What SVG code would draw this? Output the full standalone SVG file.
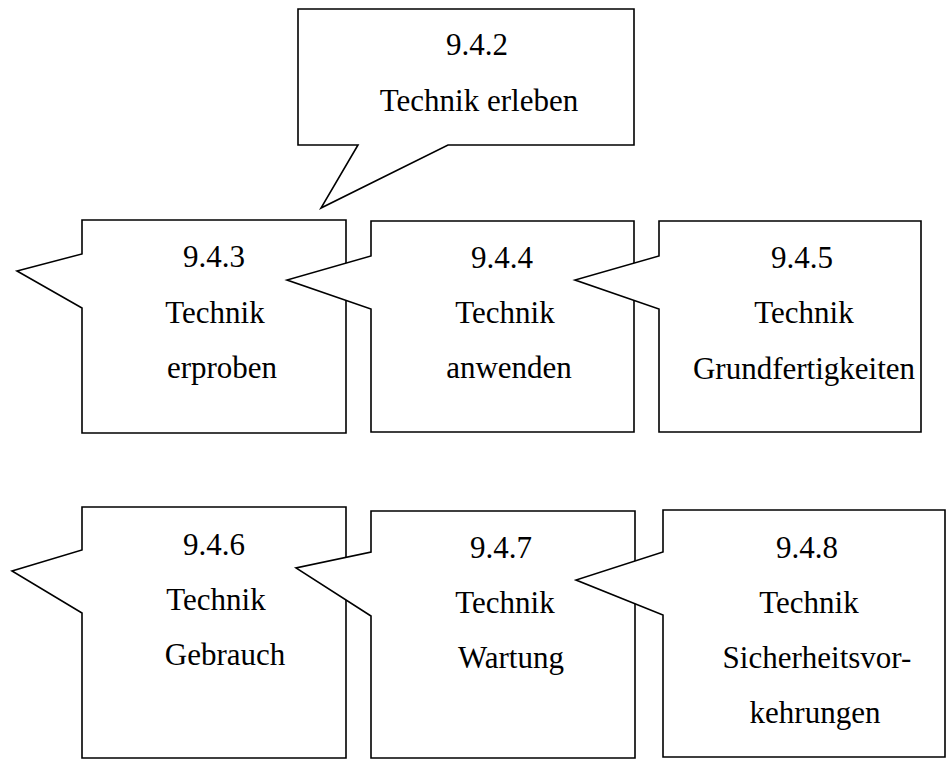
<svg xmlns="http://www.w3.org/2000/svg" width="947" height="761" viewBox="0 0 947 761">
<style>
.c{fill:#fff;stroke:#000;stroke-width:1.6;stroke-linejoin:miter}
.t{font-family:'Liberation Serif','DejaVu Serif',serif;font-size:31px;fill:#000;text-anchor:middle}
</style>
<rect width="947" height="761" fill="#fff"/>
<g id="n942">
<path class="c" d="M298,9 H634 V145 H448 L321,208 L358,145 H298 Z"/>
<text class="t" x="477" y="55">9.4.2</text>
<text class="t" x="479" y="111">Technik erleben</text>
</g>
<g id="n943">
<path class="c" d="M82,220 H346 V433 H82 V308 L17,271 L82,254 Z"/>
<text class="t" x="214" y="267">9.4.3</text>
<text class="t" x="215" y="323">Technik</text>
<text class="t" x="222" y="378">erproben</text>
</g>
<g id="n944">
<path class="c" d="M371,221 H634 V432 H371 V309 L287,280 L371,256 Z"/>
<text class="t" x="502" y="268">9.4.4</text>
<text class="t" x="505" y="323">Technik</text>
<text class="t" x="509" y="378">anwenden</text>
</g>
<g id="n945">
<path class="c" d="M659,221 H921 V432 H659 V309 L575,280 L659,256 Z"/>
<text class="t" x="802" y="268">9.4.5</text>
<text class="t" x="804" y="323">Technik</text>
<text class="t" x="804" y="379">Grundfertigkeiten</text>
</g>
<g id="n946">
<path class="c" d="M82,507 H346 V758 H82 V613 L12,571 L82,550 Z"/>
<text class="t" x="214" y="555">9.4.6</text>
<text class="t" x="216" y="610">Technik</text>
<text class="t" x="225" y="665">Gebrauch</text>
</g>
<g id="n947">
<path class="c" d="M371,511 H635 V758 H371 V616 L296,568 L371,552 Z"/>
<text class="t" x="501" y="558">9.4.7</text>
<text class="t" x="505" y="613">Technik</text>
<text class="t" x="511" y="668">Wartung</text>
</g>
<g id="n948">
<path class="c" d="M663,510 H945 V757 H663 V615 L576,580 L663,552 Z"/>
<text class="t" x="807" y="558">9.4.8</text>
<text class="t" x="809" y="613">Technik</text>
<text class="t" x="817" y="668">Sicherheitsvor-</text>
<text class="t" x="815" y="723">kehrungen</text>
</g>
<g id="connectors"></g>
</svg>
